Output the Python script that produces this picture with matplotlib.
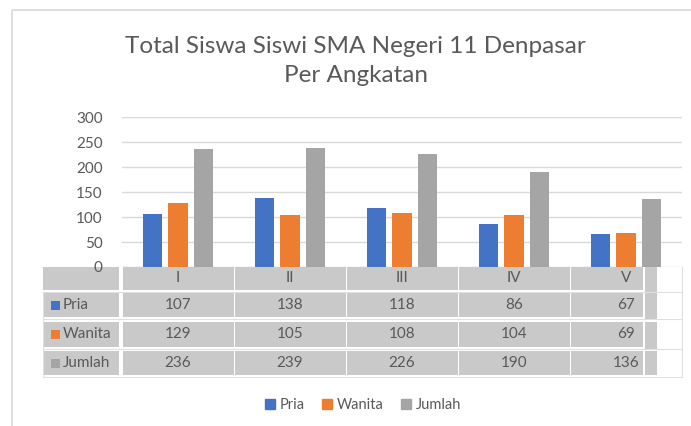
import matplotlib
matplotlib.use("Agg")
import matplotlib.pyplot as plt
from matplotlib.patches import Rectangle, Patch
import numpy as np

categories = ["I", "II", "III", "IV", "V"]
series_names = ["Pria", "Wanita", "Jumlah"]
pria = [107, 138, 118, 86, 67]
wanita = [129, 105, 108, 104, 69]
jumlah = [236, 239, 226, 190, 136]
yticks = [0, 50, 100, 150, 200, 250, 300]
title = "Total Siswa Siswi SMA Negeri 11 Denpasar\nPer Angkatan"

colors = ["#4472C4", "#ED7D31", "#A5A5A5"]
text_c = "#595959"
cell_c = "#C9C9C9"
font = ["Lato", "DejaVu Sans"]
plt.rcParams["font.family"] = font

W, H = 691, 426
fig = plt.figure(figsize=(W / 100, H / 100), dpi=100)

# overlay in pixel coordinates
ov = fig.add_axes([0, 0, 1, 1], zorder=0)
ov.set_xlim(0, W)
ov.set_ylim(H, 0)
ov.axis("off")

# chart border
ov.add_patch(Rectangle((12, 10), W, H, fill=False, ec="#D9D9D9", lw=1.2))

pl, pr, pt, pb = 122, 682, 117, 267
ax = fig.add_axes([pl / W, 1 - pb / H, (pr - pl) / W, (pb - pt) / H], zorder=2)
ax.patch.set_alpha(0)
n = len(categories)
x = np.arange(n)
data = [pria, wanita, jumlah]
bw = 0.17
offs = [-0.228, 0, 0.228]
for d, c, o in zip(data, colors, offs):
    ax.bar(x + o, d, width=bw, color=c, zorder=3)
ax.set_xlim(-0.5, n - 0.5)
ax.set_ylim(0, 300)
ax.set_yticks(yticks)
ax.set_yticklabels([str(v) for v in yticks], fontsize=11, color=text_c)
ax.tick_params(axis="y", length=0, pad=14)
ax.tick_params(axis="x", length=0, labelbottom=False)
ax.grid(axis="y", color="#D9D9D9", lw=1)
ax.set_axisbelow(True)
for s in ax.spines.values():
    s.set_visible(False)

fig.text(0.515, 1 - 61 / H, title, ha="center", va="center", fontsize=17.5,
         color=text_c, linespacing=1.45)

# data table
def px(xd):
    return pl + (xd + 0.5) / n * (pr - pl)

rows = [(267, 290)] + [(293, 317), (322, 347), (351, 375)]
label_l, label_r = 43, 120
vis_right = 643
# grid lines
for (t, b) in rows:
    ov.plot([label_l, pr], [b + 1.5, b + 1.5], color="#E0E0E0", lw=0.8)
ov.plot([pr, pr], [267, 377], color="#E0E0E0", lw=0.8)
ov.plot([label_l, label_l], [292, 377], color="#E0E0E0", lw=0.8)

for ri, (t, b) in enumerate(rows):
    ov.add_patch(Rectangle((label_l, t), label_r - label_l - 1, b - t, fc=cell_c, ec="none"))
    for ci in range(n):
        x0 = px(ci - 0.5) + 1
        x1 = min(px(ci + 0.5), vis_right)
        ov.add_patch(Rectangle((x0, t), x1 - x0, b - t, fc=cell_c, ec="none"))
    ov.add_patch(Rectangle((645, t), 12, b - t + (3 if ri < 3 else 0), fc=cell_c, ec="none"))
    cy = (t + b) / 2
    if ri == 0:
        for ci, cat in enumerate(categories):
            ov.text(px(ci), cy, cat, ha="center", va="center", fontsize=11, color=text_c)
    else:
        k = ri - 1
        ov.add_patch(Rectangle((51, cy - 4.5), 9, 9, fc=colors[k], ec="none"))
        ov.text(63, cy, series_names[k], ha="left", va="center", fontsize=11, color=text_c)
        for ci, v in enumerate(data[k]):
            ov.text(px(ci), cy, str(v), ha="center", va="center", fontsize=11, color=text_c)

handles = [Patch(color=c, label=s) for c, s in zip(colors, series_names)]
fig.legend(handles=handles, loc="center", bbox_to_anchor=(0.525, 1 - 405 / H), ncol=3,
           frameon=False, fontsize=10.5, handlelength=0.7, handleheight=0.7,
           handletextpad=0.3, columnspacing=1.2, labelcolor=text_c)

fig.savefig("out.png", dpi=100)
